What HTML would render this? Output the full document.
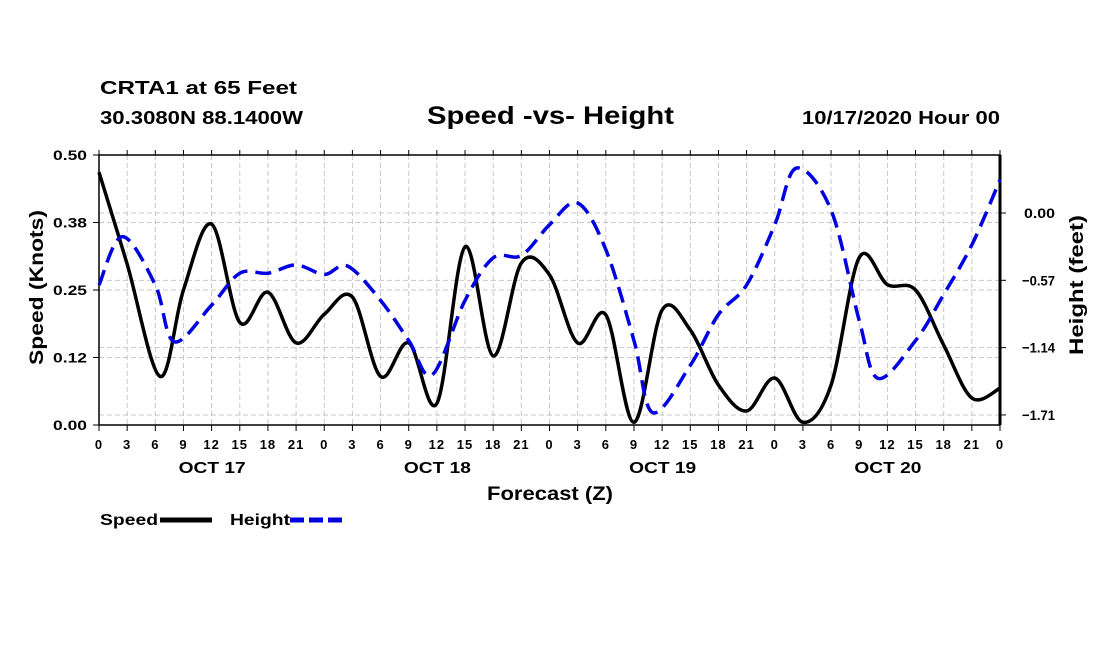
<!DOCTYPE html>
<html><head><meta charset="utf-8"><style>
body{margin:0;background:#fff;}
svg text{font-family:"Liberation Sans",sans-serif;font-weight:bold;fill:#000;}
</style></head><body>
<svg id="chart" width="1100" height="650" xmlns="http://www.w3.org/2000/svg">
<text x="100" y="94" font-size="18" textLength="197" lengthAdjust="spacingAndGlyphs">CRTA1 at 65 Feet</text>
<text x="100" y="124" font-size="18" textLength="203" lengthAdjust="spacingAndGlyphs">30.3080N 88.1400W</text>
<text x="427" y="124" font-size="25" textLength="247" lengthAdjust="spacingAndGlyphs">Speed -vs- Height</text>
<text x="802" y="124" font-size="18" textLength="198" lengthAdjust="spacingAndGlyphs">10/17/2020 Hour 00</text>
<g id="grid"></g><g id="axes"></g><g id="series"></g>
<text x="487" y="500" font-size="19" textLength="126" lengthAdjust="spacingAndGlyphs">Forecast (Z)</text>
<text transform="translate(43,365) rotate(-90)" font-size="19" textLength="155" lengthAdjust="spacingAndGlyphs">Speed (Knots)</text>
<text transform="translate(1083,355) rotate(-90)" font-size="19" textLength="140" lengthAdjust="spacingAndGlyphs">Height (feet)</text>
<g>
<text x="100" y="525" font-size="16" textLength="58" lengthAdjust="spacingAndGlyphs">Speed</text>
<line x1="160" y1="520" x2="212" y2="520" stroke="#000" stroke-width="5"/>
<text x="230" y="525" font-size="16" textLength="60" lengthAdjust="spacingAndGlyphs">Height</text>
<line x1="290" y1="520" x2="342" y2="520" stroke="#0000e0" stroke-width="5" stroke-dasharray="14,5"/>
</g>
</svg>
<script>
const speedHours=[0,3,6.5,9,12,15,18,21,24,27,30,33,36,39,42,45,48,51,54,57,60,63,66,69,72,75,78,81,84,87,90,93,96];
const speedValues=[0.468,0.298,0.09,0.25,0.372,0.19,0.246,0.152,0.205,0.237,0.09,0.152,0.04,0.33,0.128,0.30,0.278,0.152,0.204,0.005,0.213,0.176,0.074,0.026,0.087,0.005,0.074,0.31,0.26,0.25,0.148,0.05,0.068];
const heightHours=[0,2.5,6,8,12,15,18,21,24,26.5,30,33,35.5,39,42,45,48,51,54,57,59,63,66,69,72,74.3,78,81,83,87,90,93,96];
const heightValues=[-0.61,-0.20,-0.61,-1.09,-0.78,-0.51,-0.51,-0.44,-0.52,-0.45,-0.74,-1.08,-1.37,-0.74,-0.38,-0.36,-0.10,0.085,-0.31,-1.08,-1.69,-1.29,-0.86,-0.61,-0.10,0.38,0.025,-0.91,-1.40,-1.08,-0.69,-0.27,0.28];
const leftTicks=[0,0.125,0.25,0.375,0.5];
const leftTickLabels=["0.00","0.12","0.25","0.38","0.50"];
const rightTicks=[0,-0.57,-1.14,-1.71];
const rightTickLabels=["0.00","-0.57","-1.14","-1.71"];
const hourLabels=["0","3","6","9","12","15","18","21","0","3","6","9","12","15","18","21","0","3","6","9","12","15","18","21","0","3","6","9","12","15","18","21","0"];
const dayLabels=["OCT 17","OCT 18","OCT 19","OCT 20"];

const X0=99,X1=1000,Y0=425,Y1=155;
const x=h=>X0+(X1-X0)*h/96;
const yL=v=>Y0-(Y0-Y1)*v/0.5;
const yR=v=>213-118.1*v;
const NS="http://www.w3.org/2000/svg";
function mk(tag,attrs,parent,txt){const e=document.createElementNS(NS,tag);for(const k in attrs)e.setAttribute(k,attrs[k]);if(txt!==undefined)e.textContent=txt;parent.appendChild(e);return e;}
const grid=document.getElementById('grid'),axes=document.getElementById('axes'),series=document.getElementById('series');
const gs={stroke:"#c8c8c8","stroke-width":1,"stroke-dasharray":"5,3"};
for(let i=1;i<32;i++){const l=mk('line',Object.assign({x1:x(i*3),x2:x(i*3),y1:Y1,y2:Y0},gs),grid);

}
leftTicks.slice(1,4).forEach(v=>{const l=mk('line',Object.assign({x1:X0,x2:X1,y1:yL(v),y2:yL(v)},gs),grid);

});
rightTicks.forEach(v=>{const l=mk('line',Object.assign({x1:X0,x2:X1,y1:yR(v),y2:yR(v)},gs),grid);

});
const fr=mk('rect',{x:X0,y:Y1,width:X1-X0,height:Y0-Y1,fill:"none",stroke:"#000","stroke-width":1.5},axes);


const ra=mk('line',{x1:X1,x2:X1,y1:Y1,y2:Y0,stroke:"#000","stroke-width":3},axes);


hourLabels.forEach((t,i)=>{const xx=x(i*3);
mk('line',{x1:xx,x2:xx,y1:Y0,y2:Y0+6,stroke:"#000"},axes);
mk('line',{x1:xx,x2:xx,y1:Y1,y2:Y1-5,stroke:"#000"},axes);
const tx=mk('text',{x:xx,y:449,"font-size":13,"text-anchor":"middle","letter-spacing":1},axes,t);

});
dayLabels.forEach((t,i)=>{const tx=mk('text',{x:x(12+24*i)-33,y:473,"font-size":16,textLength:67,lengthAdjust:"spacingAndGlyphs"},axes,t);

});
leftTicks.forEach((v,i)=>{mk('line',{x1:X0-6,x2:X0,y1:yL(v),y2:yL(v),stroke:"#000"},axes);
const tx=mk('text',{x:53,y:yL(v)+5,"font-size":14,textLength:34,lengthAdjust:"spacingAndGlyphs"},axes,leftTickLabels[i]);

});
rightTicks.forEach((v,i)=>{mk('line',{x1:X1,x2:X1+6,y1:yR(v),y2:yR(v),stroke:"#000"},axes);
const lbl=rightTickLabels[i].replace('-','\u2212');
const w=lbl.length>4?33:31;
const tx=mk('text',{x:1055-w,y:yR(v)+5,"font-size":14,textLength:w,lengthAdjust:"spacingAndGlyphs"},axes,lbl);

});
function path(pts){let d=`M${pts[0][0]},${pts[0][1]}`;
for(let i=0;i<pts.length-1;i++){const p0=pts[Math.max(0,i-1)],p1=pts[i],p2=pts[i+1],p3=pts[Math.min(pts.length-1,i+2)];
d+=` C${p1[0]+(p2[0]-p0[0])/6},${p1[1]+(p2[1]-p0[1])/6} ${p2[0]-(p3[0]-p1[0])/6},${p2[1]-(p3[1]-p1[1])/6} ${p2[0]},${p2[1]}`;}
return d;}
const sp=mk('path',{d:path(speedHours.map((h,i)=>[x(h),yL(speedValues[i])])),fill:"none",stroke:"#000","stroke-width":3.5},series);


const hp=mk('path',{d:path(heightHours.map((h,i)=>[x(h),yR(heightValues[i])])),fill:"none",stroke:"#0000e0","stroke-width":3.5,"stroke-dasharray":"16,8"},series);


</script>
</body></html>
